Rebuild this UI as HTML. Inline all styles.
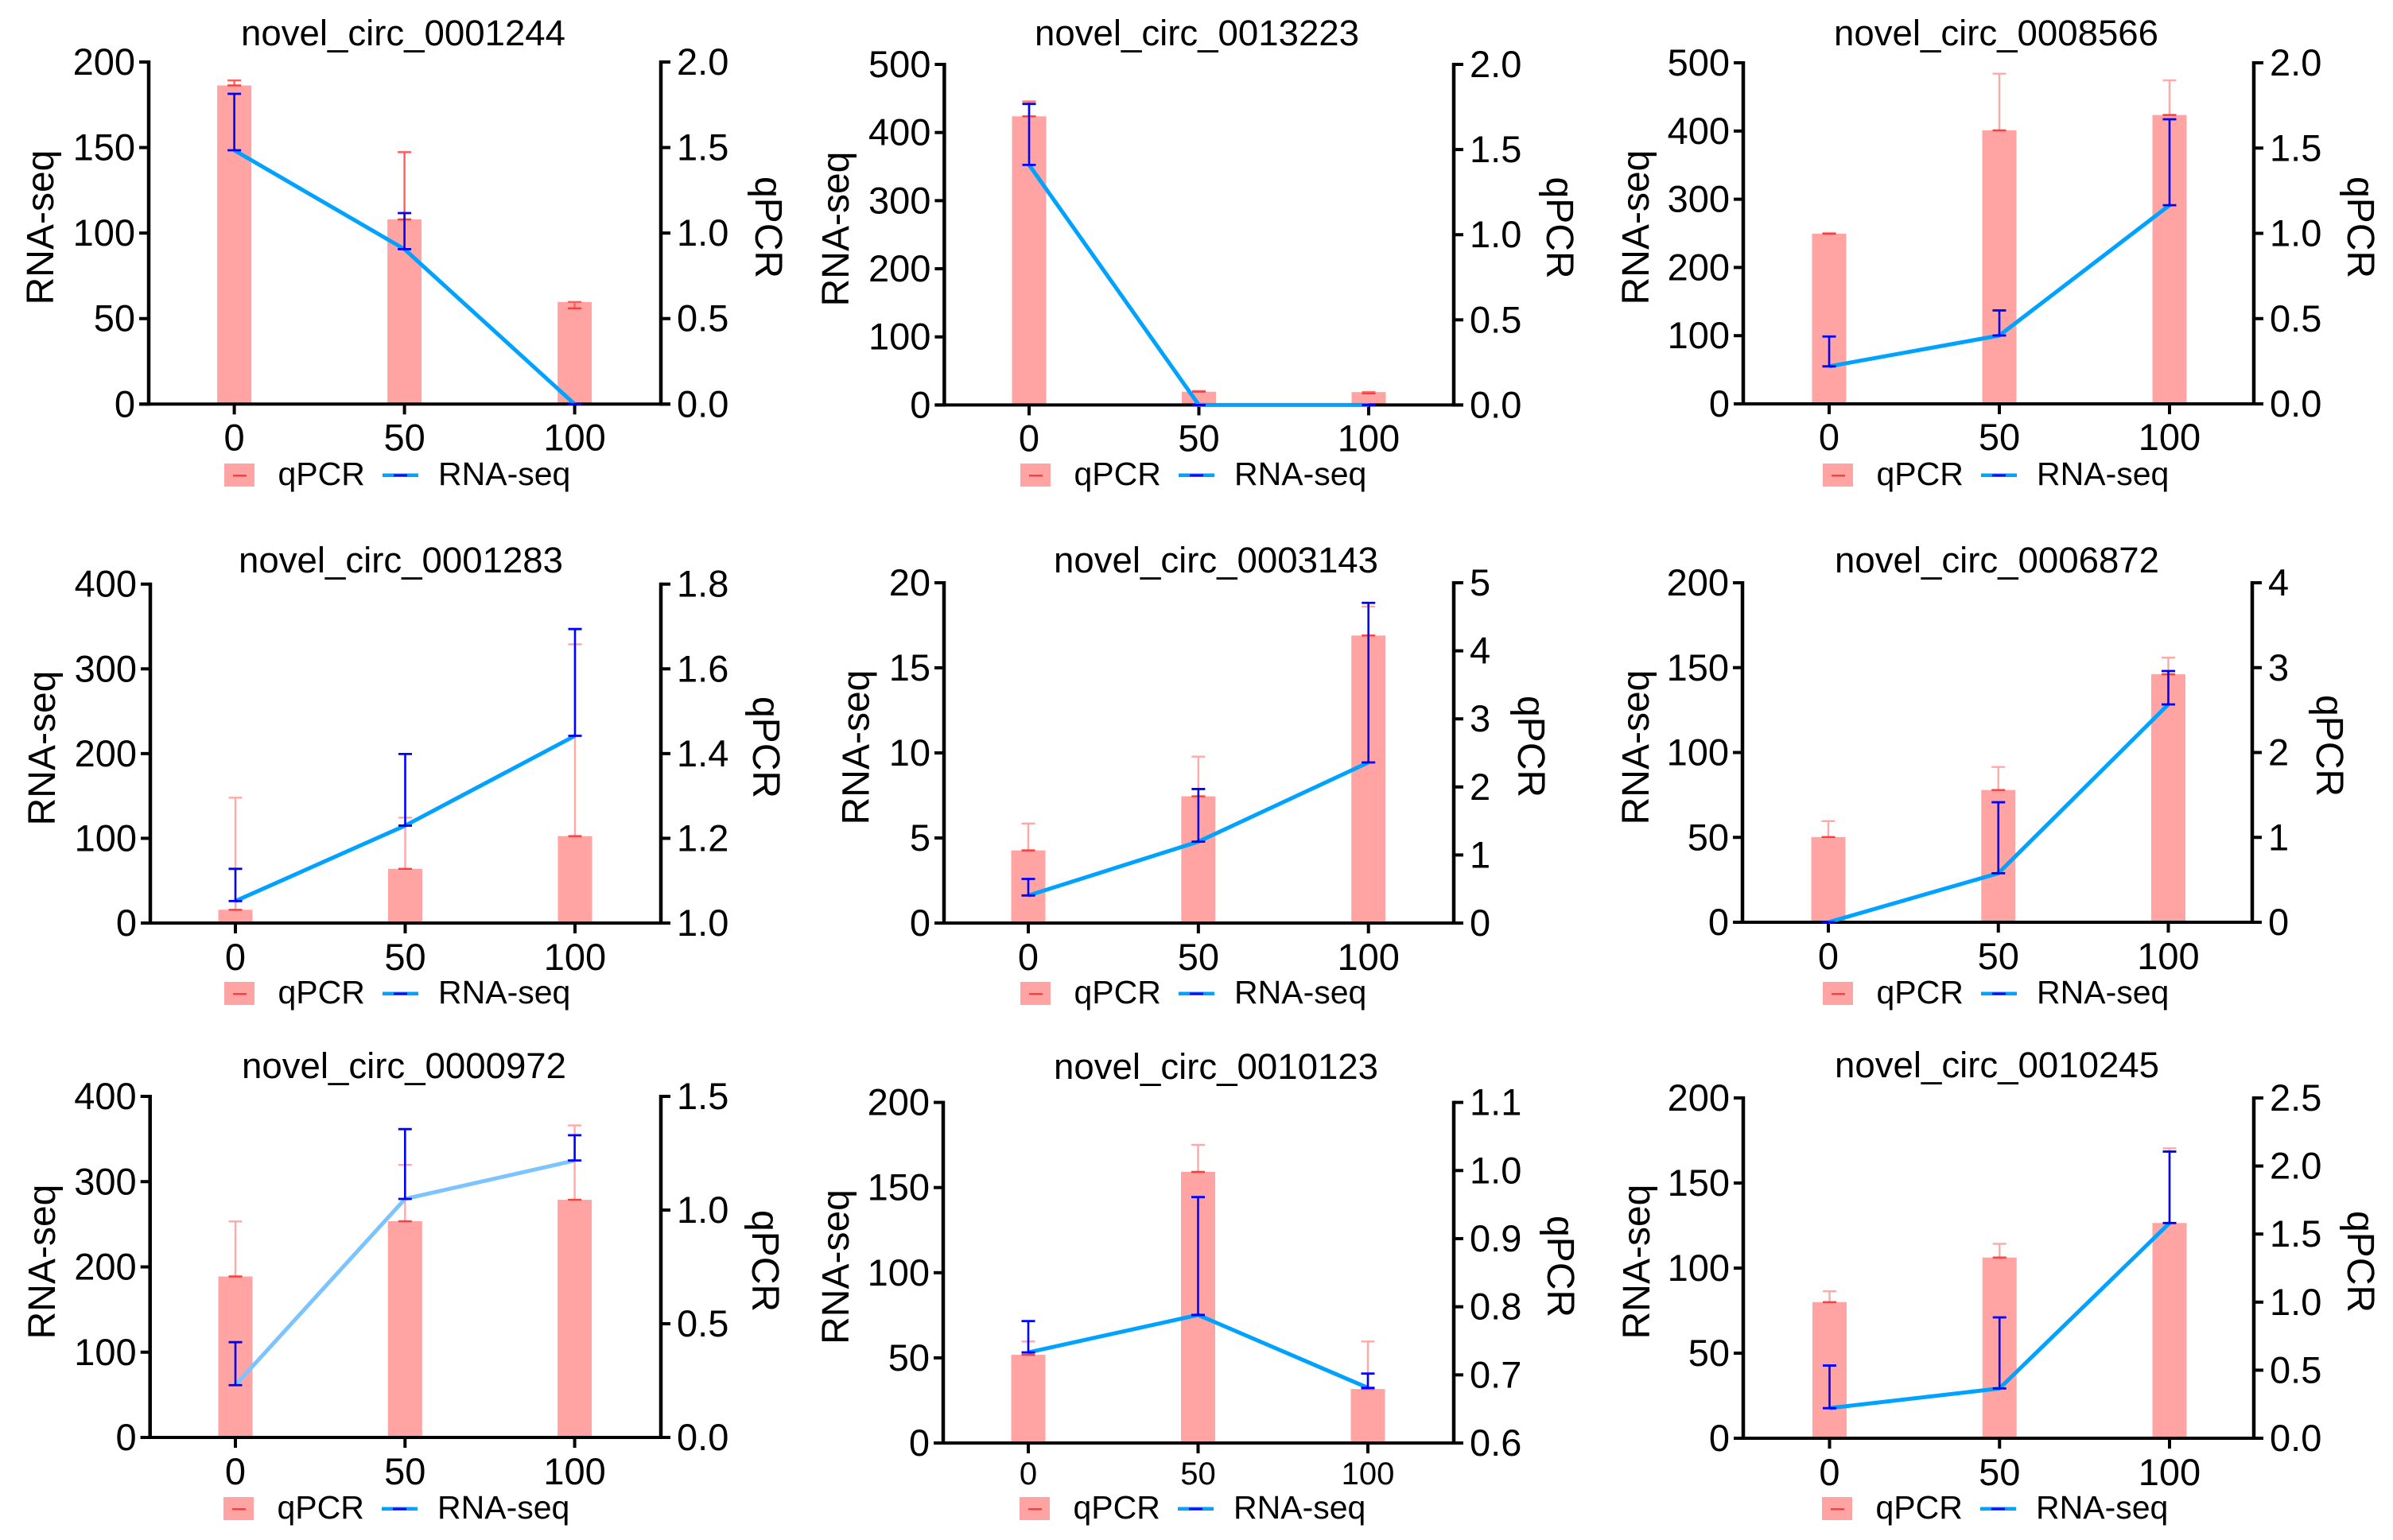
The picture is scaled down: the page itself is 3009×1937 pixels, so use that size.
<!DOCTYPE html>
<html lang="en">
<head>
<meta charset="utf-8">
<title>novel_circ qPCR and RNA-seq panels</title>
<style>
html,body{margin:0;padding:0;background:#fff;}
svg{display:block;}
text{font-family:"Liberation Sans",sans-serif;fill:#000;}
</style>
</head>
<body>
<svg id="figure" xmlns="http://www.w3.org/2000/svg" width="3009" height="1937" viewBox="0 0 3009 1937"></svg>
<script>
const categories = [0, 50, 100];
const titles = ["novel_circ_0001244","novel_circ_0013223","novel_circ_0008566","novel_circ_0001283","novel_circ_0003143","novel_circ_0006872","novel_circ_0000972","novel_circ_0010123","novel_circ_0010245"];
const leftTicks = [
  [0,50,100,150,200],[0,100,200,300,400,500],[0,100,200,300,400,500],
  [0,100,200,300,400],[0,5,10,15,20],[0,50,100,150,200],
  [0,100,200,300,400],[0,50,100,150,200],[0,50,100,150,200]
];
const rightTicks = [
  ["0.0","0.5","1.0","1.5","2.0"],["0.0","0.5","1.0","1.5","2.0"],["0.0","0.5","1.0","1.5","2.0"],
  ["1.0","1.2","1.4","1.6","1.8"],["0","1","2","3","4","5"],["0","1","2","3","4"],
  ["0.0","0.5","1.0","1.5"],["0.6","0.7","0.8","0.9","1.0","1.1"],["0.0","0.5","1.0","1.5","2.0","2.5"]
];
const qpcrValues = [
  [186.3,108,59.7],[423.8,19.5,19],[249.5,401,423.5],
  [15.7,64,102.6],[4.27,7.45,16.9],[50.2,77.9,146.1],
  [188.8,253.6,278.7],[51.8,159.2,31.7],[80,106.2,126.5]
];
const qpcrErrHigh = [
  [189.2,147.3,59.7],[445.7,20.5,19],[250.5,484,474.3],
  [148,124.4,329],[5.85,9.78,18.6],[59.6,91.5,155.9],
  [253.3,319.6,365.9],[59.6,175.1,59.6],[86.4,114.3,170.4]
];
const qpcrErrLow = [
  [186.3,108,56],[423.8,19.5,17],[249.5,401,423.5],
  [15.7,64,102.6],[4.27,7.45,16.9],[50.2,77.9,146.1],
  [188.8,253.6,278.7],[51.8,159.2,31.7],[80,106.2,126.5]
];
const rnaseqValues = [
  [1.484,0.906,0],[1.41,0,0],[0.22,0.401,1.165],
  [1.052,1.23,1.442],[0.405,1.196,2.36],[0,0.577,2.567],
  [0.23,1.049,1.218],[0.733,0.788,0.681],[0.221,0.366,1.581]
];
const rnaseqErrHigh = [
  [1.814,1.117,0],[1.768,0,0],[0.395,0.548,1.669],
  [1.128,1.399,1.694],[0.648,1.969,4.705],[0,1.414,2.96],
  [0.419,1.356,1.329],[0.779,0.961,0.702],[0.534,0.888,2.106]
];

function frame(L,R,c0,c100,top,base,tx,ty,lx,ly,rx,ry,lgx,lgy,stem,line,xf,xo){
  return {L,R,c0,c100,top,base,tx,ty,lx,ly,rx,ry,lgx,lgy,stem,line,xf,xo};
}
const frames = [
  frame(187,831,294.6,722.6,78,508.3,507,57,67,286,950,286,282,583,'#ff5c5c','#00a2ff',47,58),
  frame(1187.4,1828,1294,1721,81,509.4,1505,57,1067,288,1945,286.5,1283,583,'#ff7070','#00a2ff',47,58),
  frame(2192,2834,2300,2728,79,508,2510,57,2073,286,2952,286,2292,583,'#ffa8a8','#00a2ff',47,58),
  frame(189,831,296,723,734.7,1161,504,720,69,941,947,940,282,1235,'#ffa8a8','#00a2ff',47,59),
  frame(1187,1828,1293,1720.7,733,1161,1529,720,1092.5,940,1909,939,1283,1235,'#ffa8a8','#00a2ff',47,59),
  frame(2191,2832,2299,2726.5,733,1160,2511,720,2073,940,2913,938,2292,1235,'#ffa8a8','#00a2ff',47,59),
  frame(188.7,831,296,722.6,1379,1808,508,1356,69,1587,946,1586,281,1883,'#ffa8a8','#7cc4ff',47,59),
  frame(1186,1828,1293,1720,1386.6,1815,1529,1357,1067,1593.5,1946,1593,1282,1883,'#ffa8a8','#00a2ff',40,52),
  frame(2192,2834,2300.5,2728,1381,1809,2511,1355,2074,1587,2952,1587,2291,1883,'#ffa8a8','#00a2ff',47,59)
];

const NS = 'http://www.w3.org/2000/svg';
function add(parent, tag, attrs, text) {
  const el = document.createElementNS(NS, tag);
  for (const k in attrs) el.setAttribute(k, attrs[k]);
  if (text !== undefined) el.textContent = text;
  parent.appendChild(el);
  return el;
}
const figure = document.getElementById('figure');
const BLACK = '#000', RED = '#ff3b3b', BLUE = '#0000ff', BAR = '#ffa3a3';

frames.forEach(function (f, p) {
  const g = add(figure, 'g', {});
  
  

  const lt = leftTicks[p], rt = rightTicks[p];
  const lMin = lt[0], lMax = lt[lt.length - 1];
  const rMin = parseFloat(rt[0]), rMax = parseFloat(rt[rt.length - 1]);
  const x = v => f.c0 + (v - categories[0]) * (f.c100 - f.c0) / (categories[categories.length - 1] - categories[0]);
  const yL = v => f.base - (v - lMin) * (f.base - f.top) / (lMax - lMin);
  const yR = v => f.base - (v - rMin) * (f.base - f.top) / (rMax - rMin);

  const title = add(g, 'text', {x: f.tx, y: f.ty, 'text-anchor': 'middle', 'font-size': 45.5, textLength: 408, lengthAdjust: 'spacingAndGlyphs'}, titles[p]);
  
  

  // bars
  categories.forEach(function (c, i) {
    const bar = add(g, 'rect', {x: x(c) - 21.5, y: yL(qpcrValues[p][i]), width: 43, height: f.base - yL(qpcrValues[p][i]), fill: BAR});
    
    
  });

  // axes
  const leftAxis = add(g, 'line', {x1: f.L, x2: f.L, y1: f.top - 2, y2: f.base + 2, stroke: BLACK, 'stroke-width': 4.5});
  
  
  const rightAxis = add(g, 'line', {x1: f.R, x2: f.R, y1: f.top - 2, y2: f.base + 2, stroke: BLACK, 'stroke-width': 4.5});
  
  
  const xAxis = add(g, 'line', {x1: f.L - 12, x2: f.R + 12, y1: f.base, y2: f.base, stroke: BLACK, 'stroke-width': 4});
  
  

  lt.forEach(function (v) {
    const tick = add(g, 'line', {x1: f.L - 12, x2: f.L, y1: yL(v), y2: yL(v), stroke: BLACK, 'stroke-width': 4});
    
    
    const label = add(g, 'text', {x: f.L - 17, y: yL(v) + 16, 'text-anchor': 'end', 'font-size': 47}, String(v));
    
    
  });
  rt.forEach(function (s) {
    const v = parseFloat(s);
    const tick = add(g, 'line', {x1: f.R, x2: f.R + 12, y1: yR(v), y2: yR(v), stroke: BLACK, 'stroke-width': 4});
    
    
    const label = add(g, 'text', {x: f.R + 20, y: yR(v) + 16, 'font-size': 47}, s);
    
    
  });
  categories.forEach(function (c) {
    const tick = add(g, 'line', {x1: x(c), x2: x(c), y1: f.base, y2: f.base + 13, stroke: BLACK, 'stroke-width': 4});
    
    
    const label = add(g, 'text', {x: x(c), y: f.base + f.xo, 'text-anchor': 'middle', 'font-size': f.xf}, String(c));
    
    
  });

  // qPCR error bars
  categories.forEach(function (c, i) {
    const hi = yL(qpcrErrHigh[p][i]), lo = yL(qpcrErrLow[p][i]);
    const stem = add(g, 'line', {x1: x(c), x2: x(c), y1: hi, y2: lo, stroke: f.stem, 'stroke-width': 2.4});
    
    
    const capHi = add(g, 'line', {x1: x(c) - 8.5, x2: x(c) + 8.5, y1: hi, y2: hi, stroke: f.stem, 'stroke-width': 2.4});
    
    
    const capLo = add(g, 'line', {x1: x(c) - 8.5, x2: x(c) + 8.5, y1: lo, y2: lo, stroke: RED, 'stroke-width': 2.4});
    
    
  });

  // RNA-seq line
  const pts = categories.map((c, i) => x(c) + ',' + yR(rnaseqValues[p][i])).join(' ');
  const line = add(g, 'polyline', {points: pts, fill: 'none', stroke: f.line, 'stroke-width': 5, 'stroke-linejoin': 'round'});
  
  

  // RNA-seq error bars
  categories.forEach(function (c, i) {
    const hi = yR(rnaseqErrHigh[p][i]), lo = yR(rnaseqValues[p][i]);
    const stem = add(g, 'line', {x1: x(c), x2: x(c), y1: hi, y2: lo, stroke: BLUE, 'stroke-width': 2.6});
    
    
    const capHi = add(g, 'line', {x1: x(c) - 8.5, x2: x(c) + 8.5, y1: hi, y2: hi, stroke: BLUE, 'stroke-width': 2.8});
    
    
    const capLo = add(g, 'line', {x1: x(c) - 8.5, x2: x(c) + 8.5, y1: lo, y2: lo, stroke: BLUE, 'stroke-width': 2.8});
    
    
  });

  // axis titles
  const leftTitle = add(g, 'text', {transform: 'translate(' + f.lx + ',' + f.ly + ') rotate(-90)', 'text-anchor': 'middle', 'font-size': 48}, 'RNA-seq');
  
  
  const rightTitle = add(g, 'text', {transform: 'translate(' + f.rx + ',' + f.ry + ') rotate(90)', 'text-anchor': 'middle', 'font-size': 48}, 'qPCR');
  
  

  // legend
  const legend = add(g, 'g', {});
  
  
  const swatch = add(legend, 'rect', {x: f.lgx, y: f.lgy, width: 38, height: 29, fill: BAR});
  
  
  const dashRed = add(legend, 'rect', {x: f.lgx + 11, y: f.lgy + 14, width: 17, height: 2.4, fill: RED});
  
  
  const qpcrText = add(legend, 'text', {x: f.lgx + 67.5, y: f.lgy + 27, 'font-size': 41}, 'qPCR');
  
  
  const legendLine = add(legend, 'rect', {x: f.lgx + 199, y: f.lgy + 12.5, width: 45, height: 4.5, fill: '#00a2ff'});
  
  
  const dashBlue = add(legend, 'rect', {x: f.lgx + 213, y: f.lgy + 13.5, width: 17, height: 2.8, fill: BLUE});
  
  
  const rnaText = add(legend, 'text', {x: f.lgx + 269, y: f.lgy + 27, 'font-size': 41}, 'RNA-seq');
  
  
});
</script>
</body>
</html>
